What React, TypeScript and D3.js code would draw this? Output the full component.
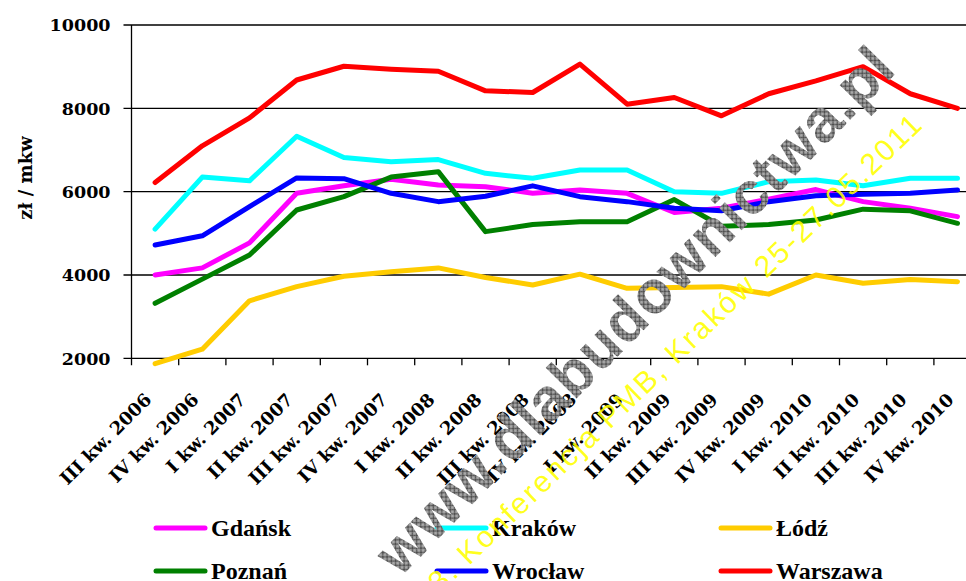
import React, { useEffect, useRef } from 'react';
import * as d3 from 'd3';

// quarters on the x axis
const quarters = [
  'III kw. 2006', 'IV kw. 2006',
  'I kw. 2007', 'II kw. 2007', 'III kw. 2007', 'IV kw. 2007',
  'I kw. 2008', 'II kw. 2008', 'III kw. 2008', 'IV kw. 2008',
  'I kw. 2009', 'II kw. 2009', 'III kw. 2009', 'IV kw. 2009',
  'I kw. 2010', 'II kw. 2010', 'III kw. 2010', 'IV kw. 2010',
];

// average price per m2 (zł)
const gdansk = [4000, 4170, 4770, 5960, 6140, 6300, 6160, 6120, 5960, 6040, 5960, 5500, 5600, 5820, 6050, 5760, 5600, 5400];
const krakow = [5100, 6350, 6260, 7330, 6820, 6720, 6770, 6440, 6320, 6520, 6520, 6000, 5960, 6240, 6280, 6140, 6320, 6320];
const lodz = [1870, 2220, 3380, 3720, 3970, 4080, 4170, 3940, 3760, 4020, 3680, 3700, 3720, 3540, 4000, 3800, 3890, 3840];
const poznan = [3320, 3900, 4480, 5560, 5880, 6350, 6480, 5040, 5210, 5280, 5280, 5810, 5170, 5210, 5320, 5580, 5540, 5240];
const wroclaw = [4720, 4940, 5640, 6330, 6310, 5960, 5760, 5890, 6140, 5880, 5760, 5600, 5540, 5760, 5900, 5940, 5960, 6040];
const warszawa = [6220, 7100, 7770, 8680, 9010, 8940, 8890, 8420, 8380, 9060, 8100, 8260, 7820, 8350, 8660, 9000, 8350, 8000];

const yTicks = [2000, 4000, 6000, 8000, 10000];

const series = [
  { name: 'Gdańsk', values: gdansk, color: '#ff00ff' },
  { name: 'Kraków', values: krakow, color: '#00ffff' },
  { name: 'Łódź', values: lodz, color: '#ffcc00' },
  { name: 'Poznań', values: poznan, color: '#008000' },
  { name: 'Wrocław', values: wroclaw, color: '#0000ff' },
  { name: 'Warszawa', values: warszawa, color: '#ff0000' },
];

const W = 966;
const H = 581;
const serif = '"DejaVu Serif", serif';

export default function App() {
  const svgRef = useRef<SVGSVGElement>(null);

  useEffect(() => {
    const svg = d3.select(svgRef.current);
    svg.selectAll('*').remove();

    const left = 131.5;
    const band = 47.2;
    const x = d3.scaleBand<string>()
      .domain(quarters)
      .range([left, left + band * quarters.length]);
    const cx = (i: number) => (x(quarters[i]) as number) + x.bandwidth() / 2;

    const y = d3.scaleLinear().domain([2000, 10000]).range([358.3, 25]);

    // hatch pattern for the watermark
    const defs = svg.append('defs');
    const pat = defs.append('pattern')
      .attr('id', 'hatch')
      .attr('patternUnits', 'userSpaceOnUse')
      .attr('width', 6)
      .attr('height', 6);
    pat.append('rect').attr('width', 6).attr('height', 6).attr('fill', '#a8a8a8');
    pat.append('path')
      .attr('d', 'M0,0L6,6M6,0L0,6')
      .attr('stroke', '#4a4a4a')
      .attr('stroke-width', 1.1);

    // gridlines
    svg.append('g')
      .selectAll('line')
      .data(yTicks.slice(1))
      .join('line')
      .attr('x1', left - 8)
      .attr('x2', W)
      .attr('y1', d => y(d))
      .attr('y2', d => y(d))
      .attr('stroke', '#000')
      .attr('stroke-width', 1.3);

    // axes
    svg.append('line')
      .attr('x1', left - 8).attr('x2', W)
      .attr('y1', y(2000)).attr('y2', y(2000))
      .attr('stroke', '#000').attr('stroke-width', 1.3);
    svg.append('line')
      .attr('x1', left).attr('x2', left)
      .attr('y1', y(10000)).attr('y2', y(2000) + 7)
      .attr('stroke', '#000').attr('stroke-width', 1.3);

    svg.append('g')
      .selectAll('line')
      .data(quarters)
      .join('line')
      .attr('x1', d => (x(d) as number) + band)
      .attr('x2', d => (x(d) as number) + band)
      .attr('y1', y(2000))
      .attr('y2', y(2000) + 7)
      .attr('stroke', '#000')
      .attr('stroke-width', 1.3);

    svg.append('g')
      .selectAll('text')
      .data(yTicks)
      .join('text')
      .attr('x', left - 21)
      .attr('y', d => y(d))
      .attr('dy', '0.36em')
      .attr('text-anchor', 'end')
      .attr('font-family', serif)
      .attr('font-weight', 'bold')
      .attr('font-size', 17.5)
      .text(d => String(d));

    svg.append('g')
      .selectAll('text')
      .data(quarters)
      .join('text')
      .attr('transform', (_, i) => `translate(${cx(i) - 7},${y(2000) + 38}) rotate(-45)`)
      .attr('dy', '0.35em')
      .attr('text-anchor', 'end')
      .attr('font-family', serif)
      .attr('font-weight', 'bold')
      .attr('font-size', 18)
      .text(d => d);

    svg.append('text')
      .attr('transform', `translate(32,178) rotate(-90)`)
      .attr('text-anchor', 'middle')
      .attr('font-family', serif)
      .attr('font-weight', 'bold')
      .attr('font-size', 18)
      .text('zł / mkw');

    // series lines
    const line = d3.line<number>()
      .x((_, i) => cx(i))
      .y(d => y(d));

    svg.append('g')
      .selectAll('path')
      .data(series)
      .join('path')
      .attr('d', d => line(d.values))
      .attr('fill', 'none')
      .attr('stroke', d => d.color)
      .attr('stroke-width', 5)
      .attr('stroke-linejoin', 'round')
      .attr('stroke-linecap', 'round');

    // legend
    const colX = [156, 437, 721];
    const rowY = [528, 571];
    const lg = svg.append('g')
      .selectAll('g')
      .data(series)
      .join('g')
      .attr('transform', (_, i) => `translate(${colX[i % 3]},${rowY[Math.floor(i / 3)]})`);
    lg.append('line')
      .attr('x1', 0).attr('x2', 49)
      .attr('stroke', d => d.color)
      .attr('stroke-width', 5)
      .attr('stroke-linecap', 'round');
    lg.append('text')
      .attr('x', 55)
      .attr('dy', '0.35em')
      .attr('font-family', '"Liberation Serif", serif')
      .attr('font-weight', 'bold')
      .attr('font-size', 24)
      .text(d => d.name);

    // watermark
    svg.append('text')
      .attr('transform', 'translate(400,578) rotate(-45.5)')
      .attr('font-family', '"Liberation Sans", Arial, sans-serif')
      .attr('font-weight', 'bold')
      .attr('font-size', 60)
      .attr('fill', 'url(#hatch)')
      .attr('textLength', 710)
      .text('www.dlabudownictwa.pl');
    svg.append('text')
      .attr('transform', 'translate(440,594) rotate(-44)')
      .attr('font-family', '"Liberation Sans", Arial, sans-serif')
      .attr('font-size', 30)
      .attr('fill', '#ffff00')
      .attr('fill-opacity', 0.9)
      .attr('textLength', 672)
      .text('3. Konferencja PMB, Kraków  25-27.05.2011');
  }, []);

  return (
    <svg
      ref={svgRef}
      width={W}
      height={H}
      style={{ position: 'absolute', left: 0, top: 0, background: 'white' }}
    />
  );
}
